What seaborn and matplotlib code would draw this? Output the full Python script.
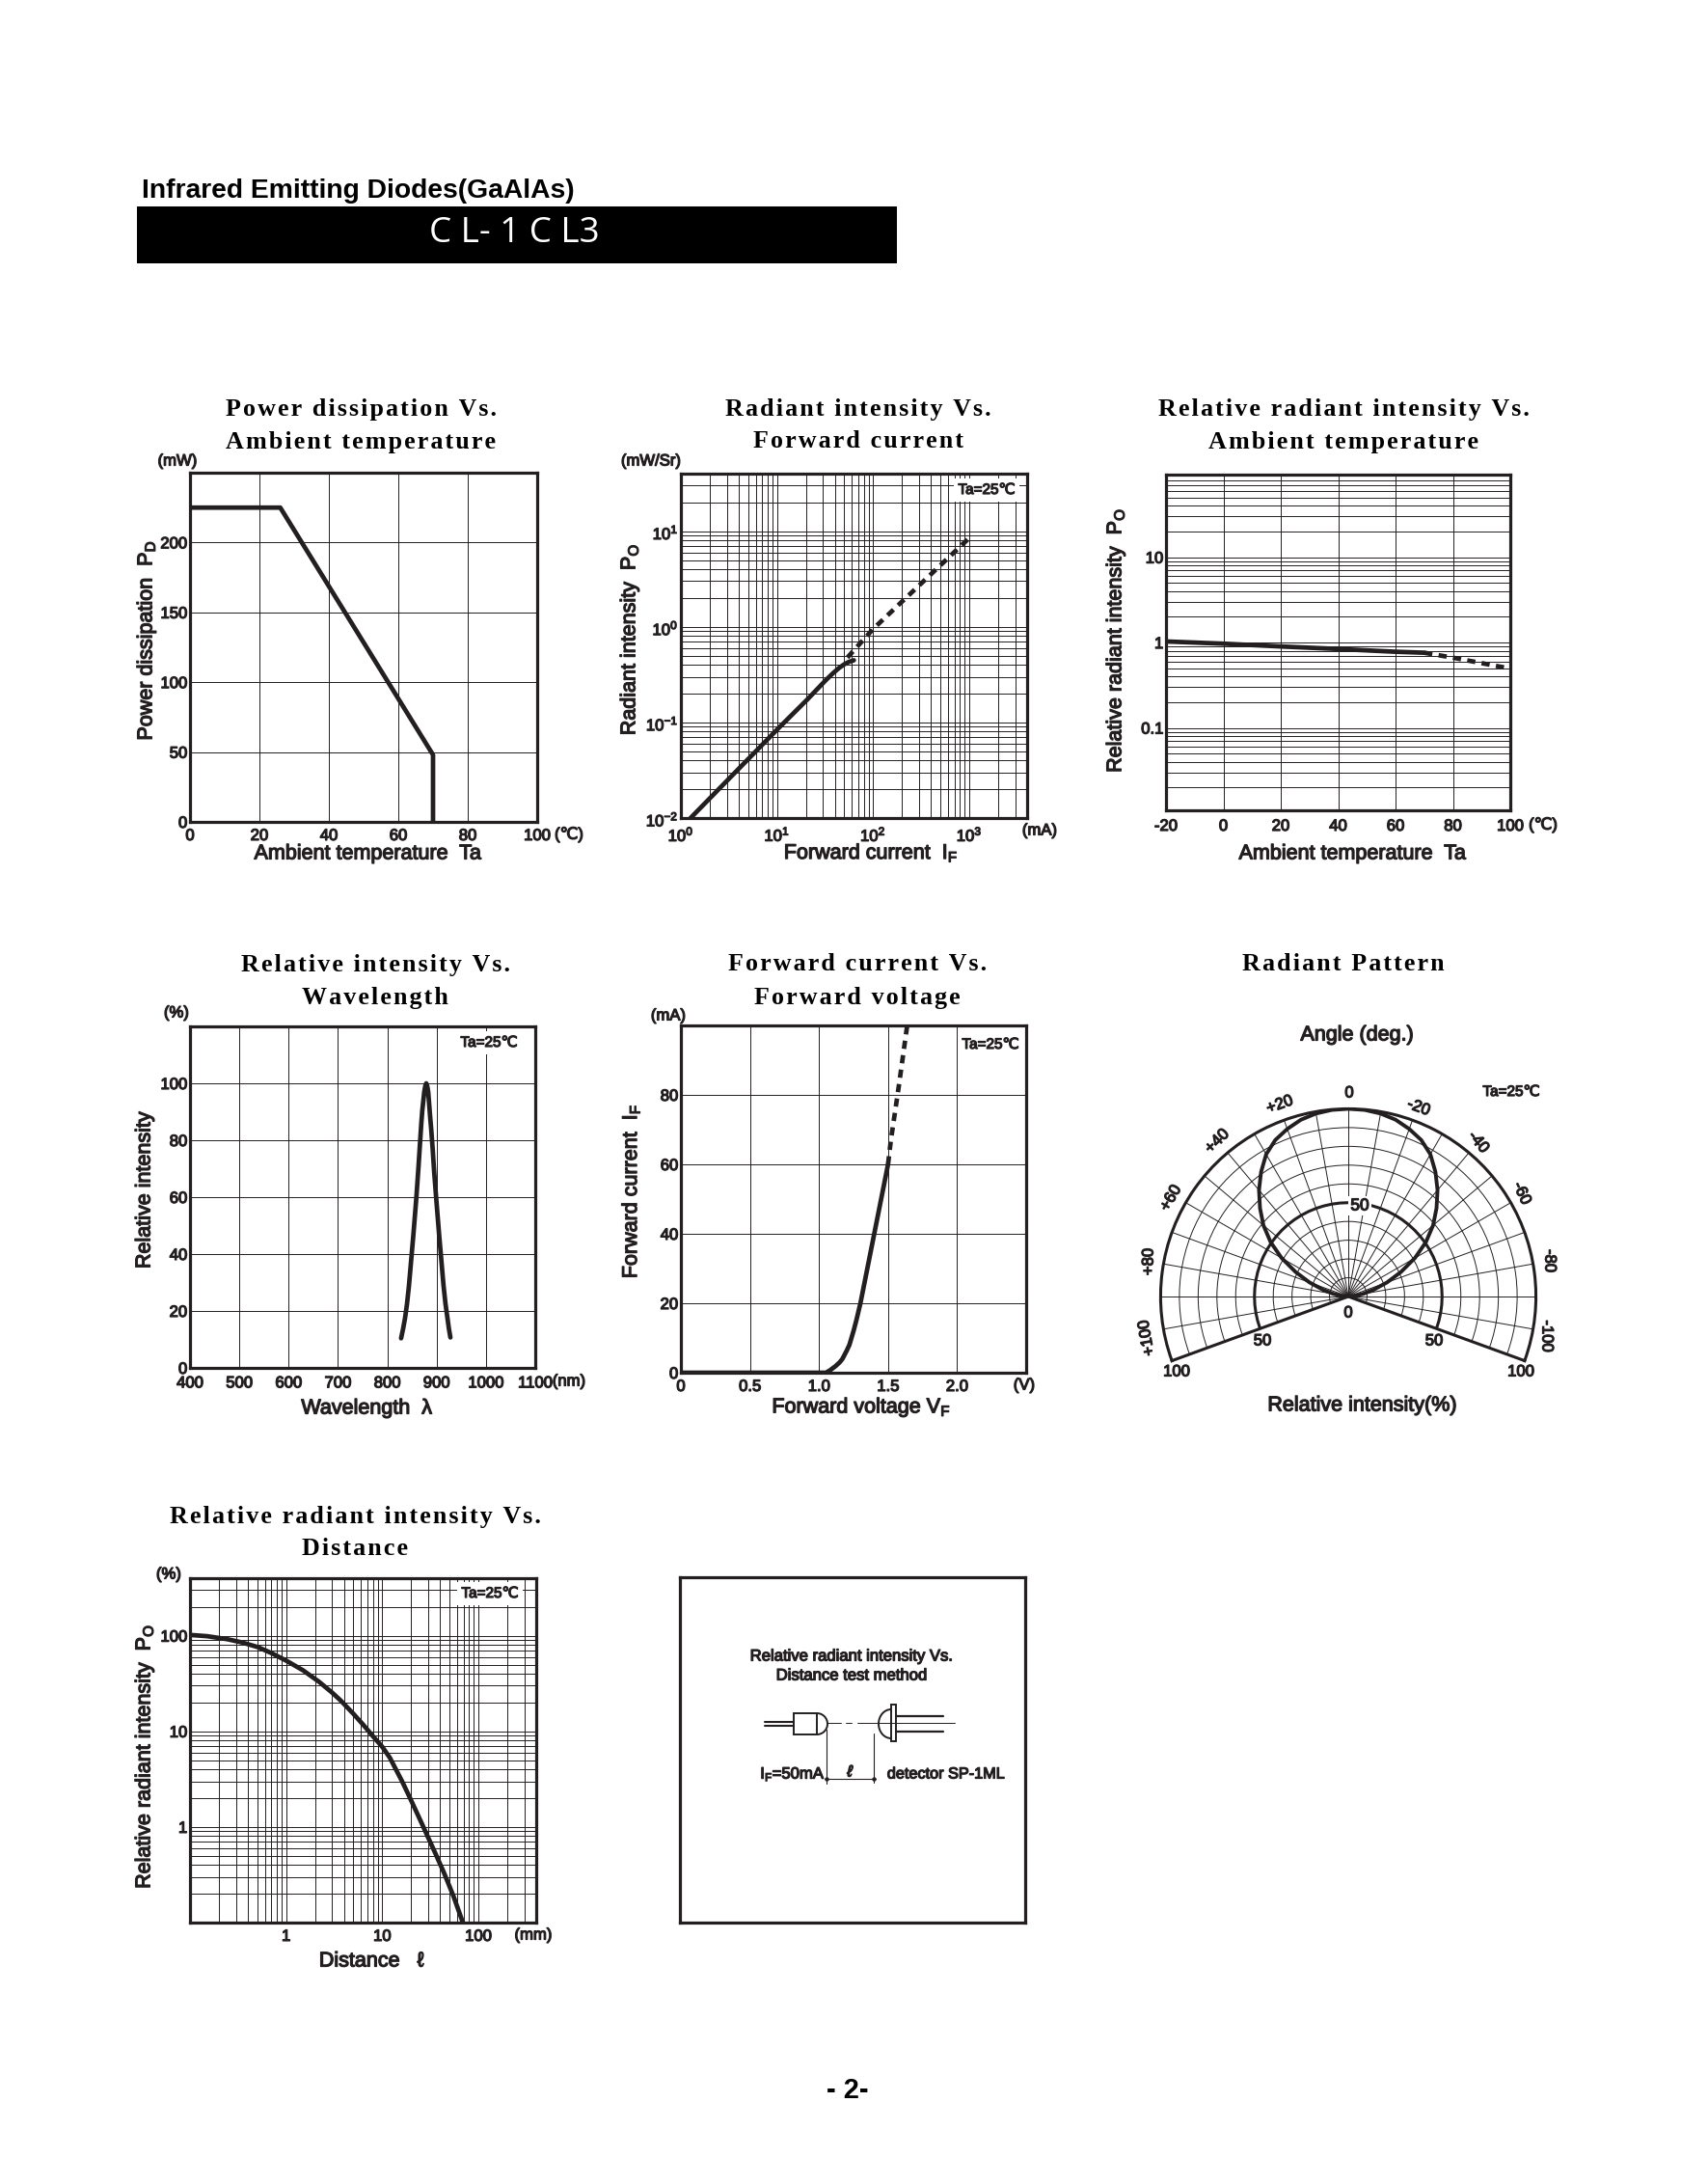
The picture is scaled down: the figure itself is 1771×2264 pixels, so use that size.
import numpy as np
import seaborn as sns
import matplotlib.pyplot as plt
import matplotlib.patheffects as pe
from matplotlib.patches import Arc, Rectangle
from matplotlib.text import Text
from matplotlib.ticker import LogLocator, NullFormatter

W, H = 1771, 2264
INK = "#231f20"

# chart data
pd_temp = [0, 26, 70, 70]
pd_power = [225, 225, 48, 0]

if_solid = [1.26, 3, 10, 20.7, 32, 38, 44, 50, 56, 63]
po_solid = [0.01, 0.0244, 0.084, 0.174, 0.275, 0.325, 0.37, 0.405, 0.43, 0.447]
if_dash = [54, 100, 1000]
po_dash = [0.477, 0.95, 8.5]

ta_solid = [-20, 0, 20, 40, 60, 70]
rel_solid = [1.03, 0.97, 0.9, 0.84, 0.78, 0.76]
ta_dash = [70, 80, 100]
rel_dash = [0.76, 0.665, 0.495]

wave = [828, 832, 836, 840, 844, 848, 853, 859, 863, 866, 869, 871, 875, 877, 879, 881, 883,
        885, 887, 889, 892, 895, 899, 905, 910, 914, 918, 922, 925, 928]
wave_rel = [10.4, 13.7, 17.5, 22.5, 29, 37, 47, 60, 70, 78, 86, 90.5, 97, 99, 100, 99, 97,
            92.5, 88, 84, 77, 69, 60, 47, 37, 29, 22.5, 17.5, 13.7, 10.7]

vf_solid = [0, 1.05, 1.08, 1.12, 1.15, 1.17, 1.2, 1.22, 1.25, 1.27, 1.3, 1.35, 1.4, 1.45, 1.5]
if_vf = [0, 0, 0.7, 1.9, 3, 4, 6.3, 8, 12, 15, 20, 30, 40, 50, 60]
vf_dash = [1.5, 1.52, 1.575, 1.638, 1.645]
if_dash_vf = [60, 66.8, 81.7, 99.8, 102]

dist = [0.1, 0.15, 0.245, 0.35, 0.51, 0.7, 1, 1.5, 2.2, 3, 3.7, 5, 6.4, 8, 10, 12, 16.1, 19.5,
        26.8, 36, 44, 55, 69]
dist_rel = [102, 99, 92, 85, 76, 66, 55, 43.5, 33, 25.5, 21, 15.3, 11.6, 8.9, 6.9, 5.3, 3, 2,
            1, 0.52, 0.33, 0.19, 0.1]

lobe_deg = [-90, -85, -80, -75, -70, -65, -60, -55, -50, -45, -40, -35, -30, -25, -20, -15, -10, -5, 0,
            5, 10, 15, 20, 25, 30, 35, 40, 45, 50, 55, 60, 65, 70, 75, 80, 85, 90]
lobe_r = [0, 3, 8, 14, 22, 31, 41, 50.5, 59, 66.5, 74, 81, 87.5, 92, 95, 97.5, 99, 99.8, 100,
          99.8, 99, 97.5, 95, 92, 87.5, 81, 74, 66.5, 59, 50.5, 41, 31, 22, 14, 8, 3, 0]
half_deg = list(range(-110, 115, 5))
half_r = [50] * len(half_deg)

titles = [
    ("Power dissipation Vs.", "Ambient temperature", 374, 424, 458),
    ("Radiant intensity Vs.", "Forward current", 890, 424, 458),
    ("Relative radiant intensity Vs.", "Ambient temperature", 1393, 424, 458),
    ("Relative intensity Vs.", "Wavelength", 389, 1000, 1034),
    ("Forward current Vs.", "Forward voltage", 889, 1000, 1034),
    ("Radiant Pattern", "", 1393, 1000, 1034),
    ("Relative radiant intensity Vs.", "Distance", 368, 1572, 1605),
]

sns.set_theme(style="white", rc={"axes.edgecolor": INK, "text.color": INK,
                                 "xtick.color": INK, "ytick.color": INK})
plt.rcParams["font.family"] = ["Liberation Sans", "DejaVu Sans"]
plt.rcParams["mathtext.default"] = "regular"

fig = plt.figure(figsize=(W / 100, H / 100), dpi=100, facecolor="white")


def px(x, y):
    return x / W, 1 - y / H


def label(x, y, s, size=15.5, **kw):
    kw.setdefault("ha", "center")
    kw.setdefault("va", "center")
    return fig.text(*px(x, y), s, fontsize=size, **kw)


def panel(left, top, right, bottom, xpad=5):
    ax = fig.add_axes([left / W, 1 - bottom / H, (right - left) / W, (bottom - top) / H])
    ax.grid(True, which="both", color=INK, lw=0.7)
    ax.set_axisbelow(True)
    ax.tick_params(which="both", length=0, labelsize=12)
    ax.tick_params(axis="x", pad=xpad)
    ax.tick_params(axis="y", pad=2)
    for s in ax.spines.values():
        s.set_linewidth(2.3)
        s.set_color(INK)
    return ax


def logaxis(axis):
    axis.set_minor_locator(LogLocator(base=10, subs=np.arange(2, 10), numticks=20))
    axis.set_minor_formatter(NullFormatter())


def curve(ax, x, y, dashed=False):
    kw = {"linestyle": (0, (1.8, 1.4))} if dashed else {}
    sns.lineplot(x=x, y=y, ax=ax, color=INK, lw=3.4, estimator=None, sort=False, **kw)
    ax.set(xlabel="", ylabel="")


def note(x, y):
    label(x, y, "Ta=25\u2103", size=11, bbox=dict(fc="white", ec="none", pad=3.5))


# header
fig.patches.append(Rectangle((142 / W, 1 - 273 / H), 788 / W, 59 / H, transform=fig.transFigure,
                             fc="black", ec="none"))
label(147, 198, "Infrared Emitting Diodes(GaAlAs)", size=20.3, ha="left", fontweight="bold",
      color="black")
label(533, 242, "C L- 1 C L3", size=26.5, color="white", family=["Open Sans", "DejaVu Sans"])

# titles
for top, bottom, cx, y1, y2 in titles:
    for s, y in ((top, y1), (bottom, y2)):
        label(cx, y, "\u200a".join(s), size=18.7, fontweight="bold", color="black",
              family=["Liberation Serif", "DejaVu Serif"])

# power dissipation
ax = panel(197, 490, 557, 852)
curve(ax, pd_temp, pd_power)
ax.set(xlim=(0, 100), ylim=(0, 250))
ax.set_xticks([0, 20, 40, 60, 80, 100], ["0", "20", "40", "60", "80", "100"])
ax.set_yticks([0, 50, 100, 150, 200], ["0", "50", "100", "150", "200"])
label(184, 478, "(mW)", size=12)
label(590, 865, "(\u2103)", size=12)
label(381, 885, "Ambient temperature  Ta")
label(152, 664, "Power dissipation  P$_{D}$", rotation=90)

# radiant intensity
ax = panel(706, 491, 1065, 848)
ax.set(xscale="log", yscale="log")
curve(ax, if_solid, po_solid)
curve(ax, if_dash, po_dash, dashed=True)
ax.set(xlim=(1, 4000), ylim=(0.01, 40))
ax.set_xticks([1, 10, 100, 1000], ["$10^{0}$", "$10^{1}$", "$10^{2}$", "$10^{3}$"])
ax.set_yticks([0.01, 0.1, 1, 10], ["$10^{-2}$", "$10^{-1}$", "$10^{0}$", "$10^{1}$"])
logaxis(ax.xaxis)
logaxis(ax.yaxis)
note(1023, 508)
label(675, 478, "(mW/Sr)", size=12)
label(1078, 861, "(mA)", size=12)
label(903, 884, "Forward current  I$_{F}$")
label(653, 663, "Radiant intensity  P$_{O}$", rotation=90)

# relative intensity vs temperature
ax = panel(1209, 492, 1566, 840, xpad=6.5)
ax.set_yscale("log")
curve(ax, ta_solid, rel_solid)
curve(ax, ta_dash, rel_dash, dashed=True)
ax.set(xlim=(-20, 100), ylim=(0.0108, 93))
ax.set_xticks([-20, 0, 20, 40, 60, 80, 100], ["-20", "0", "20", "40", "60", "80", "100"])
ax.set_yticks([0.1, 1, 10], ["0.1", "1", "10"])
logaxis(ax.yaxis)
ax.grid(False, which="minor", axis="x")
label(1600, 855, "(\u2103)", size=12)
label(1402, 885, "Ambient temperature  Ta")
label(1157, 664, "Relative radiant intensity  P$_{O}$", rotation=90)

# wavelength
ax = panel(197, 1064, 555, 1418, xpad=6)
curve(ax, wave, wave_rel)
ax.set(xlim=(400, 1100), ylim=(0, 120))
ax.set_xticks([400, 500, 600, 700, 800, 900, 1000, 1100],
              ["400", "500", "600", "700", "800", "900", "1000", "1100"])
ax.set_yticks([0, 20, 40, 60, 80, 100], ["0", "20", "40", "60", "80", "100"])
note(507, 1081)
label(183, 1050, "(%)", size=12)
label(590, 1432, "(nm)", size=12)
label(380, 1460, "Wavelength  \u03bb")
label(150, 1234, "Relative intensity", rotation=90)

# forward current
ax = panel(706, 1063, 1064, 1423)
curve(ax, vf_solid, if_vf)
curve(ax, vf_dash, if_dash_vf, dashed=True)
ax.set(xlim=(0, 2.5), ylim=(0, 100))
ax.set_xticks([0, 0.5, 1, 1.5, 2], ["0", "0.5", "1.0", "1.5", "2.0"])
ax.set_yticks([0, 20, 40, 60, 80], ["0", "20", "40", "60", "80"])
note(1027, 1083)
label(693, 1053, "(mA)", size=12)
label(1062, 1436, "(V)", size=12)
label(893, 1459, "Forward voltage V$_{F}$")
label(654, 1235, "Forward current  I$_{F}$", rotation=90)

# radiant pattern, polar axes fit the wedge into a square
ax = fig.add_axes([1201 / W, 1 - 1477 / H, 394 / W, 394 / H], projection="polar")
ax.set_theta_zero_location("N")
ax.set_theta_direction(1)
ax.set_thetamin(-110)
ax.set_thetamax(110)
ax.set_rlim(0, 100)
ax.set_xticks(np.radians(np.arange(-110, 111, 10)))
ax.set_yticks(np.arange(10, 101, 10))
ax.set_xticklabels([])
ax.set_yticklabels([])
ax.grid(True, color=INK, lw=0.7)
ax.set_axisbelow(True)
for s in ax.spines.values():
    s.set_linewidth(2.2)
    s.set_color(INK)
sns.lineplot(x=np.radians(half_deg), y=half_r, ax=ax, color=INK, lw=2.2, estimator=None, sort=False)
sns.lineplot(x=np.radians(lobe_deg), y=lobe_r, ax=ax, color=INK, lw=2.8, estimator=None, sort=False)
ax.set(xlabel="", ylabel="")

for s, x, y, rot in [("+20", 1327, 1145, 20), ("+40", 1262, 1183, 45), ("+60", 1214, 1242, 60),
                     ("+80", 1191, 1308, 90), ("+100", 1189, 1387, 100), ("-20", 1471, 1148, -20),
                     ("-40", 1533, 1184, -50), ("-60", 1578, 1237, -65), ("-80", 1607, 1307, -90),
                     ("-100", 1604, 1385, -90), ("0", 1399, 1133, 0)]:
    label(x, y, s, size=12, rotation=rot)
label(1410, 1250, "50", size=12.5, bbox=dict(fc="white", ec="none", pad=1.5), zorder=5)
for s, x, y in [("0", 1398, 1361), ("50", 1309, 1390), ("50", 1487, 1390),
                ("100", 1220, 1422), ("100", 1577, 1422)]:
    label(x, y, s, size=12)
label(1567, 1132, "Ta=25\u2103", size=11)
label(1407, 1073, "Angle (deg.)")
label(1412, 1457, "Relative intensity(%)")

# distance
ax = panel(197, 1636, 556, 1993)
ax.set(xscale="log", yscale="log")
curve(ax, dist, dist_rel)
ax.set(xlim=(0.1, 400), ylim=(0.1, 400))
ax.set_xticks([1, 10, 100], ["1", "10", "100"])
ax.set_yticks([1, 10, 100], ["1", "10", "100"])
logaxis(ax.xaxis)
logaxis(ax.yaxis)
note(508, 1652)
label(175, 1632, "(%)", size=12)
label(553, 2006, "(mm)", size=12)
label(385, 2033, "Distance   \u2113")
label(150, 1821, "Relative radiant intensity  P$_{O}$", rotation=90)

# test method box, axes in page pixels
ax = panel(705, 1635, 1063, 1993)
ax.grid(False, which="both")
ax.set(xlim=(705, 1063), ylim=(1993, 1635), xticks=[], yticks=[])
for x, y, lw in [((793, 823), (1785, 1785), 1.5), ((793, 823), (1789, 1789), 1.5),
                 ((858, 872), (1786, 1786), 0.7), ((877, 883), (1786, 1786), 0.7),
                 ((889, 990), (1786, 1786), 0.7), ((930, 978), (1779, 1779), 1.6),
                 ((930, 978), (1795, 1795), 1.6), ((857, 857), (1793, 1849), 0.8),
                 ((906, 906), (1797, 1848), 0.8), ((857, 906), (1844, 1844), 0.8)]:
    ax.plot(x, y, color=INK, lw=lw)
ax.add_patch(Rectangle((823, 1776), 24, 22, fc="none", ec=INK, lw=1.4))
ax.add_patch(Arc((847, 1787), 22, 22, theta1=-90, theta2=90, ec=INK, lw=1.4))
ax.add_patch(Arc((924, 1787), 26, 30, theta1=90, theta2=270, ec=INK, lw=1.4))
ax.add_patch(Rectangle((924, 1767), 5, 38, fc="white", ec=INK, lw=1.4))
ax.plot([857, 906], [1844, 1844], ls="none", marker="D", ms=2, color=INK)
label(883, 1717, "Relative radiant intensity Vs.", size=12)
label(883, 1737, "Distance test method", size=12)
label(822, 1839, "I$_{F}$=50mA", size=12)
label(881, 1837, "\u2113", size=12, style="italic")
label(981, 1839, "detector SP-1ML", size=11.7)

label(879, 2167, "- 2-", size=21, fontweight="bold", color="black")

for t in fig.findobj(Text):
    if t.get_text() and t.get_color() != "white" and t.get_fontweight() not in ("bold", 700):
        t.set_path_effects([pe.withStroke(linewidth=0.9, foreground=INK)])

fig.savefig("out.png", dpi=100, facecolor="white")
